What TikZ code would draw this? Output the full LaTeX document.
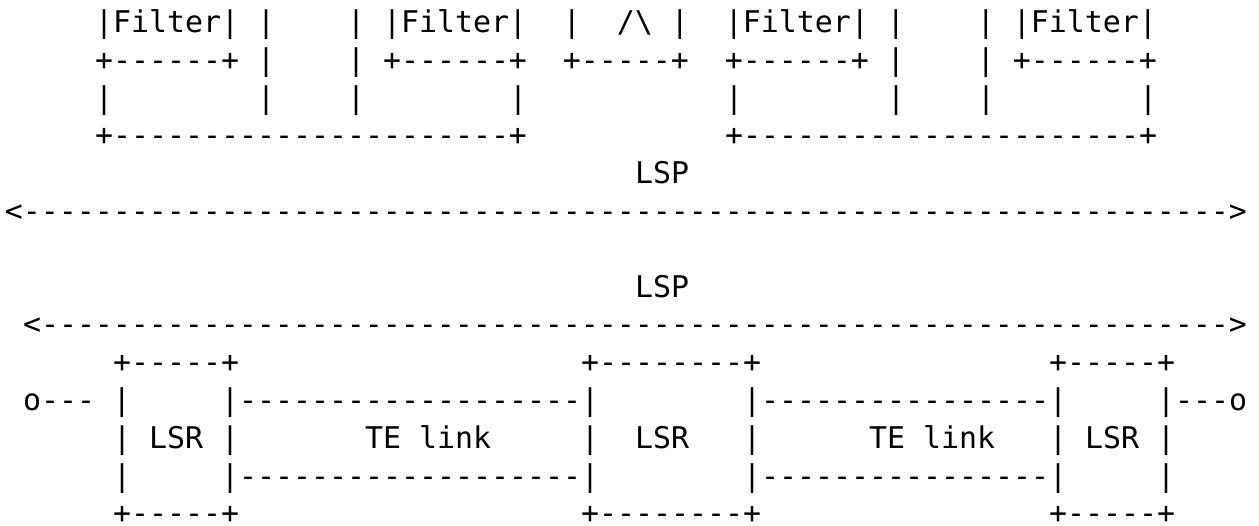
\documentclass[tikz,border=0pt]{standalone}
\usepackage{fontspec}
\setmonofont{DejaVu Sans Mono}
\ExplSyntaxOn
\cs_new:Npn \xrep #1#2 { \prg_replicate:nn {#1} {#2} }
\ExplSyntaxOff
\newcommand\Dsh[1]{\xrep{#1}{-}}
\newcommand\Sp[1]{\xrep{#1}{~}}
\tikzset{
  asciiline/.style={anchor=base west, inner sep=0pt, outer sep=0pt, text depth=0pt,
    font=\ttfamily\fontsize{29.9}{36}\selectfont, text=black}
}
\begin{document}
\begin{tikzpicture}[x=1pt,y=1pt]
\fill[white] (0,0) rectangle (1259,526);
\useasboundingbox (0,0) rectangle (1259,526);
\def\bl#1{526-32.5-37.8*#1}
\node[asciiline] (r0) at (5,{\bl{0}}) {\Sp{5}|Filter|~|\Sp{4}|~|Filter|\Sp{2}|\Sp{2}/\textbackslash{}~|\Sp{2}|Filter|~|\Sp{4}|~|Filter|};
\node[asciiline] (r1) at (5,{\bl{1}}) {\Sp{5}+\Dsh{6}+~|\Sp{4}|~+\Dsh{6}+\Sp{2}+\Dsh{5}+\Sp{2}+\Dsh{6}+~|\Sp{4}|~+\Dsh{6}+};
\node[asciiline] (r2) at (5,{\bl{2}}) {\Sp{5}|\Sp{8}|\Sp{4}|\Sp{8}|\Sp{11}|\Sp{8}|\Sp{4}|\Sp{8}|};
\node[asciiline] (r3) at (5,{\bl{3}}) {\Sp{5}+\Dsh{22}+\Sp{11}+\Dsh{22}+};
\node[asciiline] (r4) at (5,{\bl{4}}) {\Sp{35}LSP};
\node[asciiline] (r5) at (5,{\bl{5}}) {<\Dsh{67}>};
\node[asciiline] (r7) at (5,{\bl{7}}) {\Sp{35}LSP};
\node[asciiline] (r8) at (5,{\bl{8}}) {~<\Dsh{66}>};
\node[asciiline] (r9) at (5,{\bl{9}}) {\Sp{6}+\Dsh{5}+\Sp{19}+\Dsh{8}+\Sp{16}+\Dsh{5}+};
\node[asciiline] (r10) at (5,{\bl{10}}) {~o\Dsh{3}~|\Sp{5}|\Dsh{19}|\Sp{8}|\Dsh{16}|\Sp{5}|\Dsh{3}o};
\node[asciiline] (r11) at (5,{\bl{11}}) {\Sp{6}|~LSR~|\Sp{7}TE~link\Sp{5}|\Sp{2}LSR\Sp{3}|\Sp{6}TE~link\Sp{3}|~LSR~|};
\node[asciiline] (r12) at (5,{\bl{12}}) {\Sp{6}|\Sp{5}|\Dsh{19}|\Sp{8}|\Dsh{16}|\Sp{5}|};
\node[asciiline] (r13) at (5,{\bl{13}}) {\Sp{6}+\Dsh{5}+\Sp{19}+\Dsh{8}+\Sp{16}+\Dsh{5}+};
\end{tikzpicture}
\end{document}
